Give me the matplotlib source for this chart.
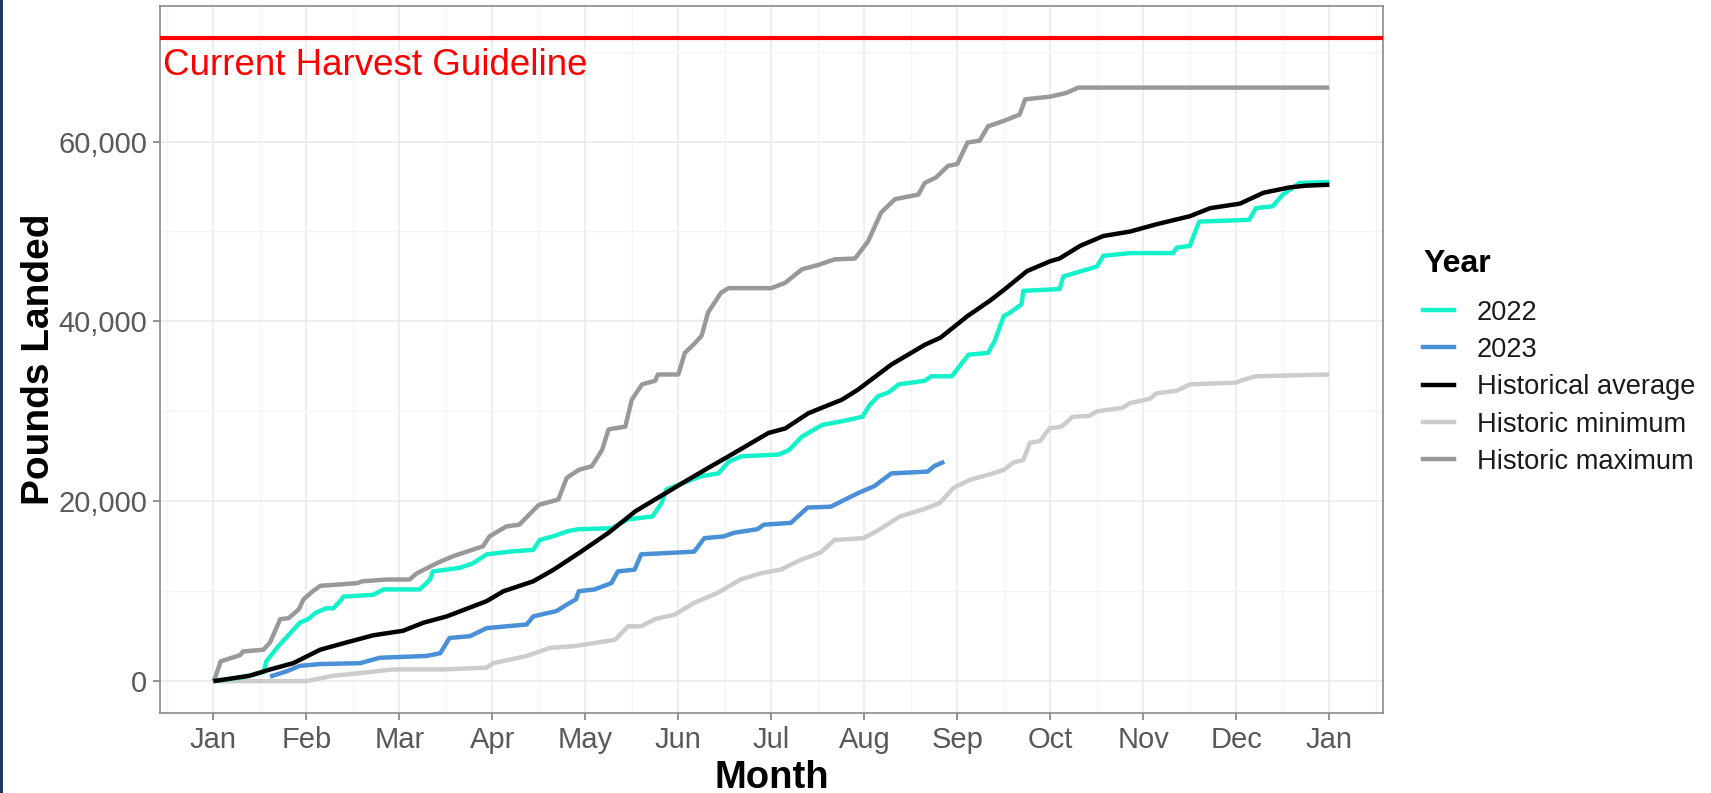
import numpy as np
import matplotlib
matplotlib.use('Agg')
import matplotlib.pyplot as plt
from matplotlib.patches import Rectangle
from matplotlib.lines import Line2D
from matplotlib.ticker import FixedLocator, FuncFormatter

plt.rcParams['font.family'] = ['Liberation Sans', 'DejaVu Sans']

# ---------------- data (x = months since Jan 1, y = thousands of pounds) -------------
month_labels = ['Jan', 'Feb', 'Mar', 'Apr', 'May', 'Jun', 'Jul', 'Aug', 'Sep',
                'Oct', 'Nov', 'Dec', 'Jan']
ytick_values = [0, 20000, 40000, 60000]
guideline = 71500
guideline_label = 'Current Harvest Guideline'
series_names = ['2022', '2023', 'Historical average', 'Historic minimum', 'Historic maximum']

max_m = [0.0, 0.02, 0.08, 0.29, 0.32, 0.54, 0.61, 0.72, 0.81, 0.92, 0.97, 1.07, 1.15,
         1.55, 1.6, 1.86, 2.11, 2.19, 2.4, 2.58, 2.9, 2.97, 3.15, 3.29, 3.5, 3.71, 3.8,
         3.93, 4.07, 4.18, 4.25, 4.43, 4.5, 4.61, 4.75, 4.78, 5.0, 5.07, 5.18, 5.25,
         5.32, 5.46, 5.54, 6.0, 6.15, 6.33, 6.51, 6.68, 6.9, 7.04, 7.18, 7.33, 7.58,
         7.65, 7.77, 7.9, 8.0, 8.11, 8.24, 8.33, 8.5, 8.67, 8.73, 9.0, 9.17, 9.3, 12.0]
max_k = [0.0, 0.4, 2.2, 2.9, 3.3, 3.5, 4.3, 6.9, 7.0, 8.0, 9.1, 10.0, 10.6,
         10.9, 11.1, 11.3, 11.3, 12.0, 13.1, 13.9, 15.0, 16.1, 17.2, 17.4, 19.6, 20.2, 22.6,
         23.5, 23.9, 25.7, 28.0, 28.3, 31.3, 33.0, 33.4, 34.1, 34.1, 36.5, 37.6, 38.4,
         41.0, 43.2, 43.7, 43.7, 44.3, 45.8, 46.3, 46.9, 47.0, 48.9, 52.1, 53.6, 54.1,
         55.4, 56.0, 57.3, 57.5, 59.9, 60.1, 61.7, 62.3, 63.0, 64.7, 65.0, 65.4, 66.0, 66.0]

y2022_m = [0.0, 0.3, 0.54, 0.57, 0.7, 0.86, 0.93, 1.02, 1.1, 1.21, 1.29, 1.38, 1.4, 1.72,
           1.83, 2.22, 2.33, 2.36, 2.65, 2.79, 2.94, 3.19, 3.44, 3.51, 3.65, 3.82, 3.93,
           4.28, 4.46, 4.72, 4.82, 4.87, 5.04, 5.25, 5.43, 5.54, 5.68, 6.08, 6.19, 6.33,
           6.55, 6.76, 6.98, 7.05, 7.15, 7.26, 7.37, 7.65, 7.72, 7.94, 8.12, 8.33, 8.4,
           8.5, 8.57, 8.69, 8.71, 9.1, 9.14, 9.5, 9.57, 9.86, 10.32, 10.36, 10.5, 10.6,
           11.14, 11.21, 11.39, 11.5, 11.68, 12.0]
y2022_k = [0.0, 0.4, 1.0, 2.2, 3.9, 5.7, 6.5, 6.9, 7.6, 8.1, 8.1, 9.1, 9.4, 9.6,
           10.2, 10.2, 11.3, 12.2, 12.6, 13.1, 14.1, 14.4, 14.6, 15.7, 16.1, 16.7, 16.9,
           17.0, 18.0, 18.3, 19.8, 21.3, 22.0, 22.8, 23.1, 24.4, 25.0, 25.2, 25.7, 27.2,
           28.5, 28.9, 29.4, 30.6, 31.7, 32.1, 33.0, 33.4, 33.9, 33.9, 36.3, 36.5, 37.8,
           40.6, 41.0, 41.9, 43.4, 43.6, 45.0, 46.1, 47.3, 47.6, 47.6, 48.2, 48.4, 51.1,
           51.3, 52.6, 52.8, 54.1, 55.4, 55.5]

y2023_m = [0.61, 0.79, 0.93, 1.15, 1.58, 1.79, 2.29, 2.44, 2.54, 2.76, 2.94, 3.37, 3.44,
           3.69, 3.8, 3.9, 3.93, 4.1, 4.28, 4.35, 4.53, 4.6, 5.17, 5.28, 5.49, 5.6, 5.85,
           5.92, 6.21, 6.39, 6.64, 6.93, 7.11, 7.29, 7.68, 7.75, 7.86]
y2023_k = [0.5, 1.1, 1.7, 1.9, 2.0, 2.6, 2.8, 3.1, 4.8, 5.0, 5.9, 6.3, 7.2,
           7.8, 8.5, 9.1, 10.0, 10.2, 10.9, 12.2, 12.4, 14.1, 14.4, 15.9, 16.1, 16.5, 16.9,
           17.4, 17.6, 19.3, 19.4, 20.9, 21.7, 23.1, 23.3, 23.9, 24.4]

avg_m = [0.0, 0.39, 0.61, 0.86, 1.15, 1.43, 1.72, 2.04, 2.26, 2.51, 2.94, 3.12, 3.44,
         3.66, 3.94, 4.25, 4.54, 4.75, 5.04, 5.32, 5.54, 5.97, 6.15, 6.4, 6.76, 6.93,
         7.29, 7.65, 7.82, 8.11, 8.35, 8.5, 8.75, 9.0, 9.1, 9.32, 9.57, 9.86, 10.14,
         10.5, 10.72, 11.04, 11.29, 11.57, 11.75, 12.0]
avg_k = [0.0, 0.6, 1.3, 2.0, 3.5, 4.3, 5.1, 5.6, 6.5, 7.2, 8.9, 10.0, 11.1,
         12.4, 14.3, 16.5, 18.9, 20.2, 22.0, 23.7, 25.0, 27.6, 28.1, 29.8, 31.3, 32.4,
         35.2, 37.4, 38.2, 40.6, 42.3, 43.5, 45.6, 46.7, 47.0, 48.4, 49.5, 50.0, 50.8,
         51.7, 52.6, 53.1, 54.3, 54.9, 55.1, 55.2]

min_m = [0.0, 1.0, 1.29, 1.58, 1.93, 2.47, 2.94, 3.01, 3.37, 3.62, 3.89, 4.32, 4.46,
         4.6, 4.75, 4.96, 5.17, 5.42, 5.67, 5.89, 6.1, 6.32, 6.53, 6.68, 6.99, 7.17,
         7.38, 7.63, 7.81, 7.96, 8.14, 8.35, 8.5, 8.6, 8.71, 8.78, 8.89, 8.99, 9.12,
         9.24, 9.42, 9.5, 9.78, 9.85, 10.07, 10.14, 10.36, 10.5, 11.0, 11.07, 11.21, 12.0]
min_k = [0.0, 0.0, 0.6, 0.9, 1.3, 1.3, 1.5, 2.0, 2.8, 3.7, 3.9, 4.6, 6.1,
         6.1, 6.9, 7.4, 8.7, 9.8, 11.3, 12.0, 12.4, 13.5, 14.3, 15.7, 15.9, 16.9,
         18.3, 19.1, 19.8, 21.5, 22.4, 23.0, 23.5, 24.3, 24.6, 26.5, 26.7, 28.1, 28.3,
         29.4, 29.5, 30.0, 30.4, 30.9, 31.4, 32.0, 32.3, 33.0, 33.2, 33.5, 33.9, 34.1]

colors = {'2022': '#14F2CB', '2023': '#4A90D6', 'Historical average': '#000000',
          'Historic minimum': '#CCCCCC', 'Historic maximum': '#999999'}

# ---------------- figure -------------
W, H = 1711, 793
fig = plt.figure(figsize=(W / 100, H / 100), dpi=100)
fig.patch.set_facecolor('white')
fig.patches.append(Rectangle((0, 0), 2.5 / W, 1, transform=fig.transFigure,
                             facecolor='#1E3466', edgecolor='none'))

left, right, top, bottom = 160, 1383, 6, 713.3
ax = fig.add_axes([left / W, 1 - bottom / H, (right - left) / W, (bottom - top) / H])
ax.set_facecolor('white')

lw = 3.2
series = [
    ('Historic maximum', max_m, max_k),
    ('Historic minimum', min_m, min_k),
    ('2022', y2022_m, y2022_k),
    ('2023', y2023_m, y2023_k),
    ('Historical average', avg_m, avg_k),
]
for name, xm, yk in series:
    ax.plot(xm, np.array(yk) * 1000, color=colors[name], lw=lw,
            solid_joinstyle='round', solid_capstyle='butt', zorder=3)

ax.axhline(guideline, color='#FF0000', lw=3.0, zorder=4)
ax.text(0.0025, 67350, guideline_label, transform=ax.get_yaxis_transform(),
        color='#FF0000', fontsize=26.5, ha='left', va='baseline', zorder=5)

ax.set_xlim(-0.573, 12.577)
ax.set_ylim(-3575, 75075)

ax.xaxis.set_major_locator(FixedLocator(list(range(13))))
ax.xaxis.set_minor_locator(FixedLocator([i + 0.5 for i in range(-1, 13)]))
ax.set_xticklabels(month_labels)
ax.yaxis.set_major_locator(FixedLocator(ytick_values))
ax.yaxis.set_minor_locator(FixedLocator([10000, 30000, 50000, 70000]))
ax.yaxis.set_major_formatter(FuncFormatter(lambda v, p: f'{v:,.0f}'))

ax.grid(True, which='major', color='#EBEBEB', lw=1.2, zorder=0)
ax.grid(True, which='minor', color='#F4F4F4', lw=0.9, zorder=0)
ax.set_axisbelow(True)

for s in ax.spines.values():
    s.set_color('#8A8A8A')
    s.set_linewidth(1.2)

ax.tick_params(which='major', length=5, width=1.2, color='#7F7F7F',
               labelcolor='#595959', labelsize=21)
ax.tick_params(axis='x', pad=4)
ax.tick_params(axis='y', pad=4)
ax.tick_params(which='minor', length=0)

fig.text(771.5 / W, 1 - 788 / H, 'Month', ha='center', va='baseline',
         fontsize=27.5, fontweight='bold', color='black')
fig.text(49 / W, 1 - 359.6 / H, 'Pounds Landed', ha='center', va='baseline',
         rotation=90, rotation_mode='anchor', fontsize=28, fontweight='bold', color='black')

# legend
fig.text(1423 / W, 1 - 272 / H, 'Year', ha='left', va='baseline',
         fontsize=23, fontweight='bold', color='black')
handles = [Line2D([], [], color=colors[n], lw=lw) for n in series_names]
fig.legend(handles, series_names, loc='upper left',
           bbox_to_anchor=(1423 / W, 1 - 299.5 / H), bbox_transform=fig.transFigure,
           frameon=False, fontsize=19.6, handlelength=1.14, handletextpad=0.83,
           labelspacing=0.417, borderpad=0, borderaxespad=0, labelcolor='#1A1A1A')

fig.savefig('out.png', dpi=100)
